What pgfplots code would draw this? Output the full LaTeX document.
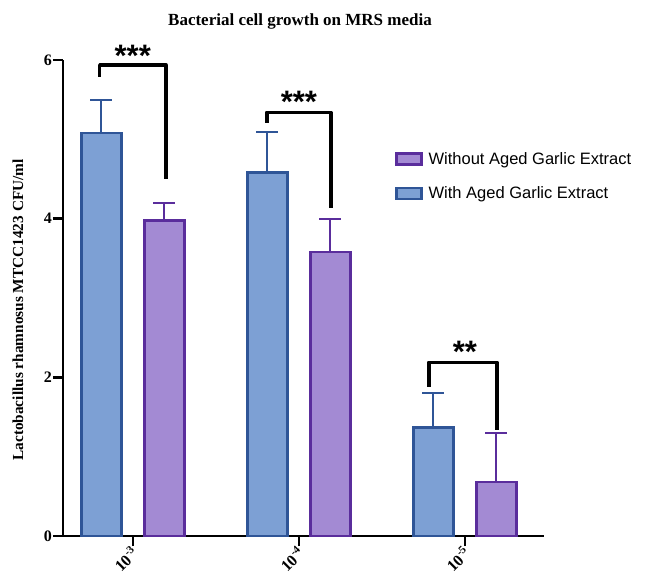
\documentclass[border=0pt]{standalone}
\usepackage{pgfplots}
\pgfplotsset{compat=1.18}
\usepackage{fontspec}
\setmainfont{Liberation Serif}
\newfontfamily\arial{Liberation Sans}
\definecolor{bluefill}{HTML}{7DA0D4}
\definecolor{blueedge}{HTML}{2F5597}
\definecolor{purpfill}{HTML}{A38AD3}
\definecolor{purpedge}{HTML}{5A2D9C}
\begin{document}
\begin{tikzpicture}[x=1pt,y=1pt]
\path[use as bounding box] (0,0) rectangle (646,579);
\node[font=\bfseries\fontsize{17}{20}\selectfont] at (300,558) {Bacterial cell growth on MRS media};
\begin{axis}[
  at={(63pt,43pt)}, anchor=south west,
  scale only axis, width=481pt, height=476pt,
  xmin=-0.42, xmax=2.476, ymin=0, ymax=6,
  clip=false,
  axis lines*=left,
  axis line style={line width=2.5pt, black},
  major tick style={line width=2.5pt, black},
  major tick length=10pt,
  tick align=outside,
  ytick={0,2,4,6},
  xtick={0,1,2},
  xticklabels={10\textsuperscript{-3},10\textsuperscript{-4},10\textsuperscript{-5}},
  /pgf/number format/assume math mode=true,
  yticklabel style={font=\bfseries\fontsize{16}{18}\selectfont, inner sep=1pt},
  xticklabel style={font=\bfseries\fontsize{16}{18}\selectfont, rotate=45, anchor=east, inner sep=1pt, yshift=-4pt},
  ylabel={Lactobacillus rhamnosus MTCC1423 CFU/ml},
  ylabel style={font=\bfseries\fontsize{15.3}{18}\selectfont, at={(axis description cs:-0.094,0.475)}, anchor=center},
  ybar, bar width=40pt,
  legend style={at={(rel axis cs:0.69,0.756)}, anchor=west, draw=none, fill=none,
    font=\arial\fontsize{16.5}{19}\selectfont, row sep=17pt, inner sep=0pt,
    nodes={inner xsep=6pt},
    /tikz/every even column/.append style={column sep=7pt}},
  legend cell align=left,
  legend image code/.code={\draw[#1, line width=2.5pt] (0pt,-5.5pt) rectangle (25pt,5.5pt);},
]
\addplot[bar shift=31.5pt, fill=purpfill, draw=purpedge, line width=2.5pt,
  error bars/.cd, y dir=plus, y explicit,
  error bar style={line width=2pt, purpedge},
  error mark options={rotate=90, line width=2pt, mark size=11pt, purpedge}]
  table[x=x, y=y, y error=e] {
x y e
0 3.98 0.22
1 3.58 0.42
2 0.68 0.62
};
\addlegendentry{Without Aged Garlic Extract}
\addplot[bar shift=-31.5pt, fill=bluefill, draw=blueedge, line width=2.5pt,
  error bars/.cd, y dir=plus, y explicit,
  error bar style={line width=2pt, blueedge},
  error mark options={rotate=90, line width=2pt, mark size=11pt, blueedge}]
  table[x=x, y=y, y error=e] {
x y e
0 5.08 0.42
1 4.58 0.51
2 1.37 0.43
};
\addlegendentry{With Aged Garlic Extract}
\draw[line width=3.5pt, line join=round] (axis cs:-0.199,5.79) -- (axis cs:-0.199,5.94) -- (axis cs:0.199,5.94) -- (axis cs:0.199,4.50);
\draw[line width=3.5pt, line join=round] (axis cs:0.807,5.21) -- (axis cs:0.807,5.34) -- (axis cs:1.193,5.34) -- (axis cs:1.193,4.13);
\draw[line width=3.5pt, line join=round] (axis cs:1.783,1.88) -- (axis cs:1.783,2.19) -- (axis cs:2.193,2.19) -- (axis cs:2.193,1.34);
\node[anchor=base, font=\arial\bfseries\fontsize{31}{33}\selectfont, inner sep=0pt] at (axis cs:0,5.92) {***};
\node[anchor=base, font=\arial\bfseries\fontsize{31}{33}\selectfont, inner sep=0pt] at (axis cs:1,5.34) {***};
\node[anchor=base, font=\arial\bfseries\fontsize{31}{33}\selectfont, inner sep=0pt] at (axis cs:2,2.19) {**};
\end{axis}
\end{tikzpicture}
\end{document}
